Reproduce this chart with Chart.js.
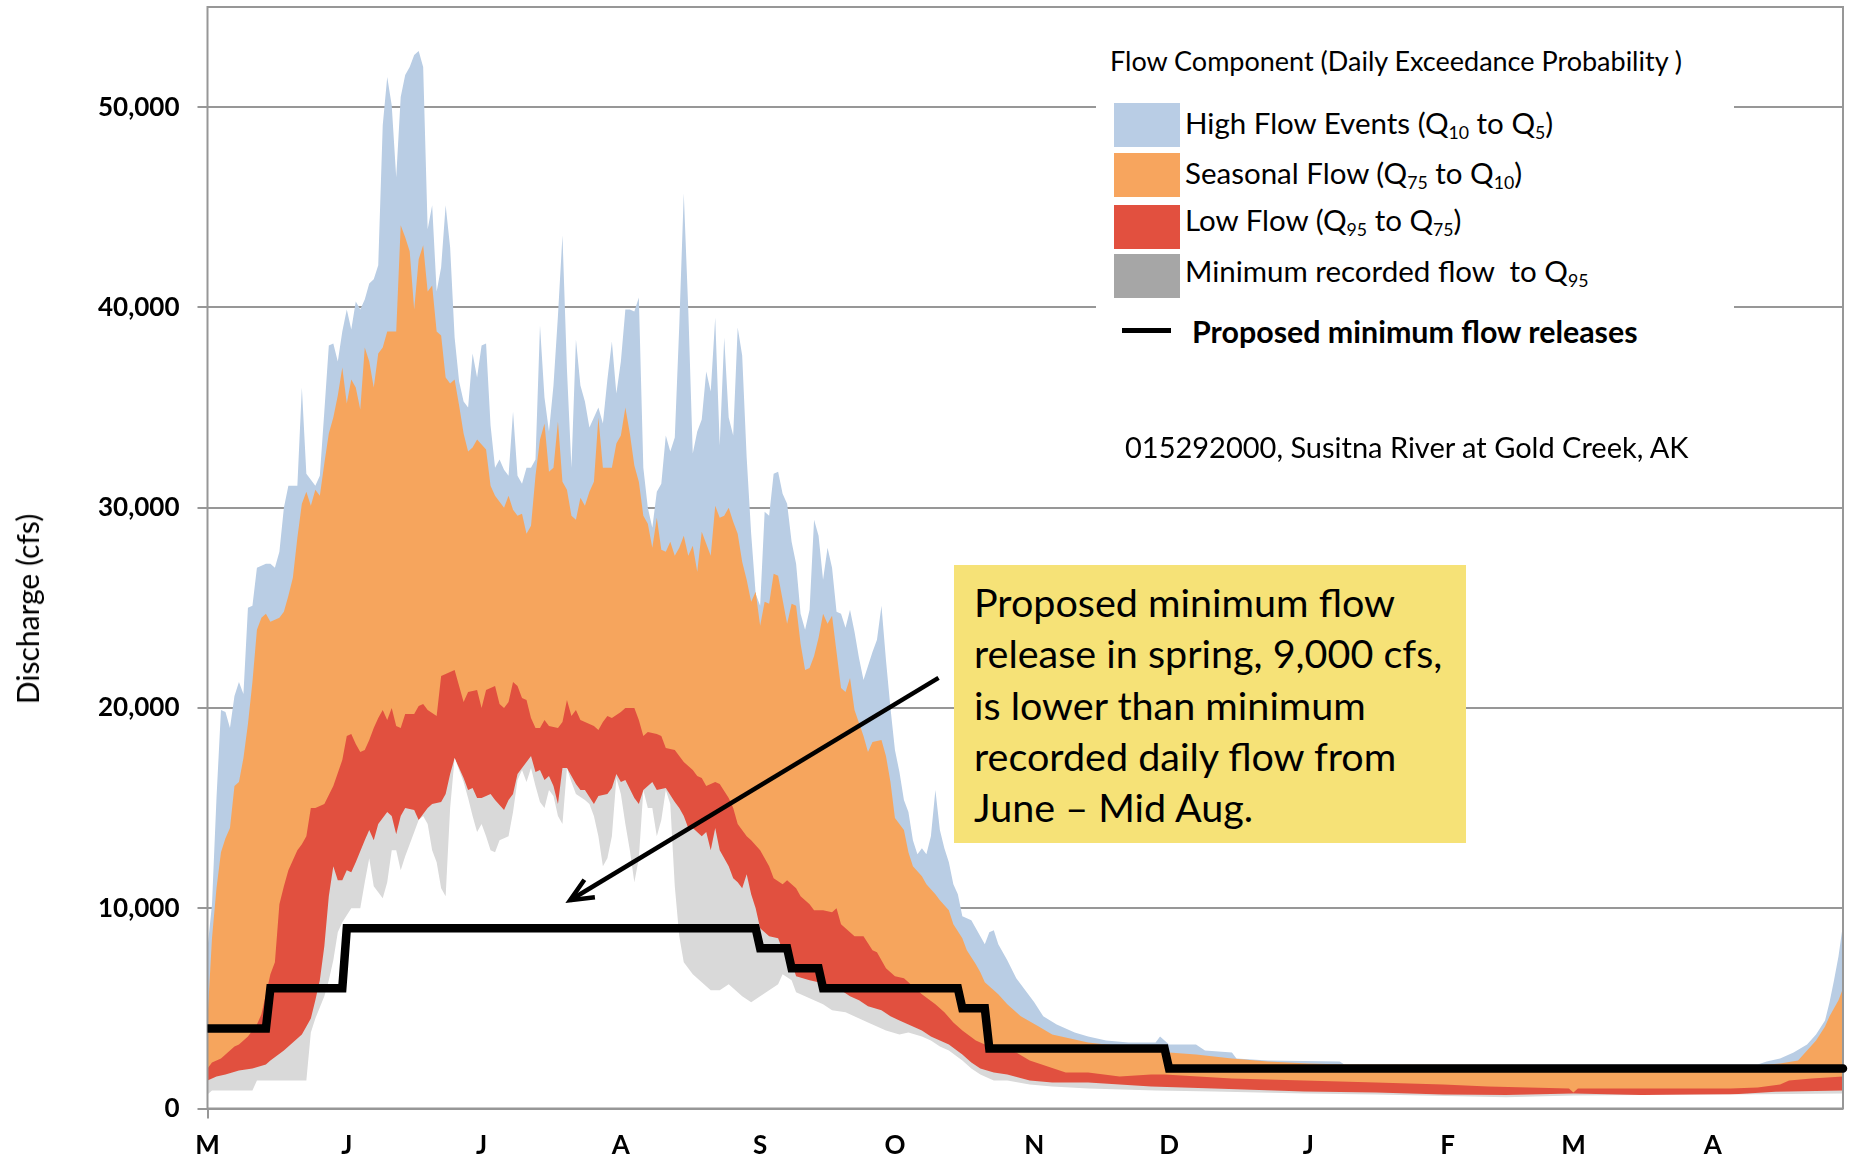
<!DOCTYPE html>
<html>
<head>
<meta charset="utf-8">
<title>Susitna River at Gold Creek – daily flow components</title>
<script src="https://cdn.jsdelivr.net/npm/chart.js"></script>
<style>
  html, body { margin: 0; padding: 0; background: #fff; }
  #wrap { position: relative; width: 1849px; height: 1160px; font-family: Lato, "Noto Sans", sans-serif; color: #000; overflow: hidden; }
  #chart { position: absolute; left: 0; top: 0; }
  .ytitle { position: absolute; left: 27px; top: 609px; transform: translate(-50%, -50%) rotate(-90deg); font-size: 30px; white-space: nowrap; }
  .legend { position: absolute; left: 1096px; top: 28px; width: 638px; height: 330px; background: #fff; }
  .legend .ttl { position: absolute; left: 14px; top: 32px; transform: translateY(-50%); font-size: 27px; white-space: pre; }
  .legend .sw { position: absolute; left: 18px; width: 66px; height: 44px; }
  .legend .lbl { position: absolute; left: 89px; transform: translateY(-50%); font-size: 29.5px; white-space: nowrap; }
  .legend .ln { position: absolute; left: 26px; top: 300px; width: 49px; height: 5px; background: #000; }
  .legend .bold { position: absolute; left: 96px; top: 303px; transform: translateY(-50%); font-size: 30.4px; font-weight: bold; white-space: nowrap; }
  sub { font-size: 0.6em; vertical-align: -0.3em; line-height: 0; }
  .site { position: absolute; left: 1125px; top: 446px; transform: translateY(-50%); font-size: 29px; white-space: nowrap; }
  .note { position: absolute; left: 954px; top: 565px; width: 512px; height: 278px; background: #f6e277; box-sizing: border-box; padding: 11px 0 0 20px; font-size: 39.5px; line-height: 51.3px; white-space: nowrap; }
</style>
</head>
<body>
<div id="wrap">
  <canvas id="chart" width="1849" height="1160"></canvas>
  <div class="ytitle">Discharge (cfs)</div>
  <div class="legend">
    <div class="ttl">Flow Component (Daily Exceedance Probability )</div>
    <div class="sw" style="top:75px;background:#b9cde5"></div>
    <div class="lbl" style="top:94px">High Flow Events (Q<sub>10</sub> to Q<sub>5</sub>)</div>
    <div class="sw" style="top:125px;background:#f7a55e"></div>
    <div class="lbl" style="top:144px">Seasonal Flow (Q<sub>75</sub> to Q<sub>10</sub>)</div>
    <div class="sw" style="top:177px;background:#e2503f"></div>
    <div class="lbl" style="top:191px">Low Flow (Q<sub>95</sub> to Q<sub>75</sub>)</div>
    <div class="sw" style="top:226px;background:#a6a6a6"></div>
    <div class="lbl" style="top:242px">Minimum recorded flow&nbsp; to Q<sub>95</sub></div>
    <div class="ln"></div>
    <div class="bold">Proposed minimum flow releases</div>
  </div>
  <div class="site">015292000, Susitna River at Gold Creek, AK</div>
  <div class="note">Proposed minimum flow<br>release in spring, 9,000 cfs,<br>is lower than minimum<br>recorded daily flow from<br>June – Mid Aug.</div>
</div>
<script>
// Water year runs May 1 (day 0) to Apr 30 (day 364).
const monthLabels = ['M', 'J', 'J', 'A', 'S', 'O', 'N', 'D', 'J', 'F', 'M', 'A'];
const monthStartDays = [0, 31, 61, 92, 123, 153, 184, 214, 245, 276, 304, 335];
const lastDay = 364;
const yTickValues = [0, 10000, 20000, 30000, 40000, 50000];
const yTop = 55000;

// Daily exceedance flows, [day, cfs]
const q5Flow = [[0,8000],[1,10200],[2,15500],[3,19900],[4,19800],[5,19000],[6,20600],[7,21300],[8,20700],[9,25000],[10,25100],[11,27000],[13,27200],[14,27200],[15,27000],[16,27800],[17,30000],[18,31100],[20,31100],[21,36000],[22,31700],[23,31400],[24,31100],[25,31600],[26,34800],[27,38100],[28,38200],[29,37300],[30,38800],[31,39900],[32,38900],[33,40300],[34,39900],[35,40400],[36,41200],[37,41400],[38,42100],[39,49100],[40,51500],[41,50100],[42,46500],[43,50500],[44,51600],[45,52000],[46,52600],[47,52800],[48,52000],[49,43900],[50,45100],[51,40800],[52,42000],[53,45100],[54,43000],[55,38500],[56,36300],[57,35300],[58,35000],[59,37700],[60,36500],[61,38100],[62,38200],[63,34100],[64,32000],[65,32400],[66,31900],[67,31600],[68,34800],[69,31600],[70,31200],[71,32000],[72,32000],[73,32400],[74,39100],[75,35500],[76,33800],[77,36100],[78,39600],[79,43600],[80,36900],[81,32000],[82,38400],[83,36100],[84,35300],[85,34000],[86,34500],[87,35000],[88,34200],[89,36400],[90,38300],[91,35700],[92,37300],[93,39900],[94,39900],[95,39800],[96,40500],[97,32000],[98,30000],[99,29000],[100,30800],[101,31200],[102,33600],[103,32800],[104,33500],[105,39100],[106,45700],[107,39900],[108,32700],[109,33800],[110,34400],[111,36800],[112,35800],[113,39500],[114,33100],[115,38500],[116,34500],[117,33600],[118,39000],[119,37600],[120,32500],[121,28700],[122,25700],[123,25100],[124,29800],[125,29600],[126,31700],[127,31800],[128,30700],[129,30200],[130,28300],[131,27200],[132,24700],[133,23900],[134,24900],[135,29400],[136,28600],[137,26400],[138,28000],[139,27000],[140,24800],[141,24700],[142,24000],[143,24900],[144,23800],[145,22500],[146,21400],[147,22100],[148,22800],[149,23400],[150,25100],[151,22400],[152,20000],[153,17900],[154,16800],[155,15400],[156,14800],[157,13400],[158,12700],[159,13000],[160,12700],[161,13600],[162,15900],[163,13900],[164,13000],[165,12300],[166,11200],[167,10700],[168,9600],[170,9400],[172,8600],[173,8200],[174,8800],[175,8900],[176,8200],[178,7400],[180,6500],[182,5900],[184,5300],[186,4600],[189,4200],[193,3800],[196,3600],[200,3400],[205,3300],[211,3300],[212,3600],[214,3200],[220,3200],[222,2900],[228,2800],[229,2500],[236,2400],[252,2350],[253,2200],[345,2200],[347,2350],[350,2500],[353,2800],[356,3200],[358,3700],[360,4400],[361,5300],[362,6400],[363,7600],[364,9200]];

const q10Flow = [[0,4500],[1,8500],[2,11000],[3,12800],[4,13500],[5,14000],[6,16100],[7,16300],[8,17500],[9,19200],[10,21300],[11,23900],[12,24500],[13,24700],[14,24300],[15,24400],[16,24500],[17,24800],[18,25600],[19,26500],[20,28500],[21,30200],[22,30800],[23,30100],[24,30900],[25,30600],[26,32200],[27,33700],[28,34500],[29,35600],[30,37000],[31,35200],[32,36400],[33,36000],[34,34900],[35,38000],[36,37300],[37,36000],[38,37700],[39,38000],[40,38800],[42,38800],[43,44100],[44,43500],[45,42800],[46,39900],[47,42400],[48,43100],[49,40800],[50,41100],[51,38800],[52,38600],[53,36500],[54,36200],[55,36400],[56,35100],[57,33700],[58,32800],[59,33000],[60,33400],[62,32900],[63,31100],[64,30600],[66,30000],[67,30600],[68,29900],[69,29600],[70,29700],[71,28700],[72,29100],[73,31600],[74,33400],[75,34200],[76,31800],[77,32000],[78,34300],[79,31300],[80,30900],[81,29600],[82,29400],[83,30500],[84,30100],[85,30800],[86,31300],[87,34500],[88,32000],[90,32000],[91,33200],[92,33600],[93,35000],[94,33700],[95,32100],[96,31300],[97,29600],[98,29200],[99,28000],[100,29500],[101,27900],[102,27800],[103,28300],[104,27600],[105,28000],[106,28600],[107,27600],[108,28100],[109,26800],[110,28800],[111,28200],[112,27600],[113,30100],[114,29500],[115,29600],[116,30000],[117,29300],[118,28700],[119,27300],[120,26400],[121,25300],[122,25800],[123,24100],[124,25300],[125,25200],[126,26700],[127,26600],[128,25400],[129,24200],[130,25200],[131,25100],[132,23200],[133,21900],[134,22000],[135,22600],[136,23500],[137,24700],[138,24200],[139,24600],[140,22800],[141,21000],[142,20800],[143,21500],[144,19900],[146,18600],[147,17800],[148,18300],[150,18400],[151,17600],[152,16300],[153,14500],[155,13900],[156,12800],[157,12100],[159,11600],[160,11200],[162,10700],[163,10400],[165,9900],[166,9200],[168,8500],[169,7900],[171,7200],[172,6800],[173,6300],[176,5700],[178,5200],[181,4600],[185,4100],[188,3700],[192,3500],[196,3300],[200,3200],[211,3000],[214,2800],[220,2700],[228,2500],[236,2350],[245,2250],[253,2200],[345,2150],[350,2250],[354,2400],[356,2900],[358,3400],[360,4100],[361,4600],[363,5400],[364,6000]];

const q75Flow = [[0,2000],[1,2300],[3,2500],[4,2700],[6,3100],[7,3200],[9,3600],[11,4200],[12,4700],[14,6700],[15,7300],[16,10200],[17,11100],[18,11900],[20,12900],[21,13200],[22,13600],[23,15000],[24,15000],[26,15200],[28,16100],[30,17400],[31,18600],[32,18700],[33,18200],[34,17800],[35,17900],[36,18400],[37,19000],[38,19500],[39,19900],[40,19400],[41,20000],[42,19100],[43,19000],[44,19700],[46,19700],[47,20100],[48,20200],[49,19900],[51,19600],[52,21600],[53,21700],[55,21900],[56,21100],[57,20300],[58,20800],[60,20900],[61,20000],[62,20900],[64,21100],[65,20200],[66,20000],[67,20300],[68,21300],[69,21100],[70,20500],[71,20400],[72,19500],[73,19000],[74,19000],[75,19400],[76,19100],[78,19000],[79,19300],[80,20400],[81,19600],[82,19900],[83,19400],[85,19200],[86,19100],[87,18900],[88,19300],[89,19600],[90,19500],[92,19800],[93,20000],[95,20000],[96,19400],[97,18600],[98,18800],[100,18700],[101,18600],[102,18000],[104,17900],[105,17600],[106,17300],[108,16900],[109,16600],[110,16500],[111,16100],[113,16300],[114,16200],[116,15500],[117,15000],[118,14200],[120,13600],[121,13400],[123,12900],[125,12100],[126,11500],[128,11200],[129,11400],[131,11000],[132,10600],[134,10200],[135,9900],[137,9900],[139,9800],[140,10000],[141,9200],[142,9000],[144,8600],[146,8600],[148,7900],[149,7800],[151,7000],[153,6600],[155,6500],[157,6100],[159,5700],[162,5200],[164,4800],[166,4300],[168,3900],[171,3400],[173,3200],[176,3000],[180,2800],[183,2400],[187,2100],[191,1800],[196,1800],[203,1600],[210,1700],[213,1700],[228,1500],[244,1400],[260,1300],[275,1200],[285,1100],[303,1000],[304,800],[305,1000],[320,1000],[339,1000],[345,1050],[350,1200],[352,1400],[357,1500],[364,1600]];

const q95Flow = [[0,1400],[2,1600],[4,1700],[7,1900],[10,2000],[13,2200],[14,2400],[17,2900],[21,3700],[23,4500],[24,5400],[25,6400],[26,8100],[27,10600],[28,12100],[29,11400],[30,11400],[31,11900],[32,11800],[33,12300],[35,13400],[36,13900],[37,13400],[38,14200],[40,14800],[41,14600],[42,13700],[43,14600],[44,15000],[46,14900],[47,14400],[49,15000],[50,15200],[52,15300],[53,15700],[54,16700],[55,17500],[57,16500],[58,15900],[59,16000],[60,15500],[61,15500],[63,15700],[64,15400],[66,14900],[67,15400],[68,15700],[69,16700],[70,17000],[72,17600],[73,16800],[74,16900],[75,16400],[76,16600],[77,16100],[78,15200],[79,17000],[80,17000],[82,16200],[83,15900],[84,15900],[86,15200],[87,15600],[89,15700],[90,16000],[91,16700],[92,16300],[93,16400],[95,15500],[96,15200],[97,15900],[99,16300],[100,15900],[102,16000],[104,15300],[105,15000],[106,14600],[107,14000],[108,14000],[110,13600],[111,13800],[112,12900],[113,14000],[114,12900],[116,12100],[117,11500],[118,11300],[119,11000],[120,11700],[121,10700],[122,10000],[123,9000],[125,8600],[127,8500],[128,7900],[130,7300],[131,6600],[134,6400],[136,6300],[138,6100],[141,5900],[143,5600],[145,5400],[147,5100],[150,4900],[152,4600],[154,4400],[156,4200],[159,3900],[161,3600],[163,3400],[165,3200],[168,2700],[170,2300],[172,2000],[175,1800],[178,1700],[183,1400],[188,1300],[196,1300],[203,1200],[210,1100],[224,1000],[244,850],[260,800],[275,700],[289,680],[304,750],[319,680],[339,700],[349,840],[364,900]];

const minRecordedFlow = [[0,700],[1,900],[10,900],[11,1400],[22,1400],[23,3800],[24,4500],[26,5600],[27,6400],[28,7400],[29,8800],[30,9300],[32,10000],[34,10000],[35,11300],[36,12500],[37,11100],[39,10500],[40,11300],[41,12900],[42,12900],[43,11900],[44,12600],[45,13200],[47,14400],[48,14600],[49,14200],[50,12900],[51,12300],[52,11000],[53,10600],[54,15000],[55,17500],[57,16300],[58,15500],[59,14600],[60,13800],[61,14200],[62,13600],[63,12900],[64,12800],[65,13400],[67,13600],[68,14800],[69,16400],[70,16900],[71,16300],[72,17000],[73,16100],[74,15300],[75,15000],[76,15900],[77,15600],[78,14600],[79,14200],[80,17000],[81,16300],[82,15700],[84,15400],[85,15200],[86,14600],[87,13600],[88,12100],[89,12500],[90,13600],[91,16500],[92,15700],[93,14200],[94,12900],[95,11300],[96,12500],[97,15900],[98,15000],[99,15000],[100,13600],[101,14400],[102,15900],[103,15200],[104,11100],[105,8600],[106,7300],[108,6700],[110,6300],[112,5900],[114,5900],[116,6200],[117,6000],[119,5600],[121,5300],[123,5600],[125,5900],[127,6200],[128,6700],[130,6400],[131,5800],[133,5600],[135,5400],[137,5200],[139,4900],[142,4800],[147,4300],[151,3900],[154,3700],[156,3800],[159,3600],[161,3400],[163,3100],[165,2900],[168,2400],[170,2000],[172,1700],[175,1400],[178,1400],[183,1200],[188,1100],[196,1000],[211,900],[224,850],[244,750],[260,700],[289,560],[304,650],[320,680],[339,700],[364,750]];

// Proposed minimum flow release schedule, [day, cfs]
const proposedRelease = [[0,4000],[13,4000],[14,6000],[30,6000],[31,9000],[122,9000],[123,8000],[129,8000],[130,7000],[136,7000],[137,6000],[167,6000],[168,5000],[173,5000],[174,3000],[213,3000],[214,2000],[364,2000]];

// Callout arrow, in chart units (day, cfs)
const arrowFrom = { day: 162.7, cfs: 21500 };
const arrowTo = { day: 80.7, cfs: 10400 };

const GRID = '#979797';
const toPoints = s => s.map(([d, v]) => ({ x: d, y: v }));
const fmt = v => String(v).replace(/\B(?=(\d{3})+(?!\d))/g, ',');

function area(label, series, color) {
  return { label, data: toPoints(series), backgroundColor: color, borderWidth: 0, pointRadius: 0, fill: 'origin', tension: 0 };
}

// Plot frame drawn over the filled bands, beneath the release line.
const plotFrame = {
  id: 'plotFrame',
  afterDatasetDraw(chart, args) {
    if (args.index !== 1) return;
    const { left, top, right, bottom } = chart.chartArea;
    const c = chart.ctx;
    c.save();
    c.strokeStyle = GRID;
    c.lineWidth = 2;
    c.strokeRect(left, top, right - left, bottom - top);
    c.restore();
  }
};

const calloutArrow = {
  id: 'calloutArrow',
  afterDatasetsDraw(chart) {
    const xs = chart.scales.x, ys = chart.scales.y;
    const x1 = xs.getPixelForValue(arrowFrom.day), y1 = ys.getPixelForValue(arrowFrom.cfs);
    const x2 = xs.getPixelForValue(arrowTo.day), y2 = ys.getPixelForValue(arrowTo.cfs);
    const c = chart.ctx;
    c.save();
    c.strokeStyle = '#000';
    c.lineWidth = 4.5;
    c.beginPath(); c.moveTo(x1, y1); c.lineTo(x2, y2); c.stroke();
    const ang = Math.atan2(y2 - y1, x2 - x1), len = 25, spread = 0.42;
    c.lineJoin = 'miter';
    c.beginPath();
    c.moveTo(x2 - len * Math.cos(ang - spread), y2 - len * Math.sin(ang - spread));
    c.lineTo(x2, y2);
    c.lineTo(x2 - len * Math.cos(ang + spread), y2 - len * Math.sin(ang + spread));
    c.stroke();
    c.restore();
  }
};

const tickDays = monthStartDays.concat([lastDay]);
const edgeTick = ctx => (ctx.index === 0 || ctx.index === tickDays.length - 1) ? GRID : 'rgba(0,0,0,0)';

new Chart(document.getElementById('chart'), {
  type: 'line',
  data: {
    datasets: [
      { label: 'Proposed minimum flow releases', data: toPoints(proposedRelease), borderColor: '#000', borderWidth: 8.5,
        pointRadius: 0, fill: false, tension: 0, borderCapStyle: 'round', borderJoinStyle: 'miter',
        clip: { left: 0, top: 5, right: 6, bottom: 5 } },
      area('Minimum recorded flow', minRecordedFlow, '#ffffff'),
      area('Minimum recorded flow to Q95', q95Flow, '#d9d9d9'),
      area('Low Flow (Q95 to Q75)', q75Flow, '#e1503f'),
      area('Seasonal Flow (Q75 to Q10)', q10Flow, '#f6a55d'),
      area('High Flow Events (Q10 to Q5)', q5Flow, '#b9cde4')
    ]
  },
  options: {
    responsive: false,
    animation: false,
    events: [],
    layout: { padding: { left: 0, right: 6, top: 7, bottom: 0 } },
    plugins: { legend: { display: false }, tooltip: { enabled: false } },
    scales: {
      x: {
        type: 'linear', min: 0, max: lastDay,
        afterBuildTicks: s => { s.ticks = tickDays.map(v => ({ value: v })); },
        afterFit: s => { s.height = 51.5; s.paddingLeft = 0; s.paddingRight = 0; },
        ticks: { autoSkip: false, maxRotation: 0, padding: 12, color: '#000',
                 font: { family: 'Lato', weight: 'bold', size: 26 },
                 callback: (v, i) => (i < monthLabels.length ? monthLabels[i] : null) },
        grid: { drawOnChartArea: false, tickLength: 10, lineWidth: 2, color: edgeTick, tickColor: edgeTick },
        border: { display: false }
      },
      y: {
        min: 0, max: yTop,
        afterBuildTicks: s => { s.ticks = yTickValues.concat([yTop]).map(v => ({ value: v })); },
        afterFit: s => { s.width = 207.5; s.paddingTop = 0; s.paddingBottom = 0; },
        ticks: { padding: 18, color: '#000', font: { family: 'Lato', weight: 'bold', size: 26 },
                 callback: v => (v === yTop ? null : fmt(v)) },
        grid: { color: GRID, lineWidth: 2, tickLength: 10,
                tickColor: ctx => (ctx.tick && ctx.tick.value === yTop ? 'rgba(0,0,0,0)' : GRID) },
        border: { display: false }
      }
    }
  },
  plugins: [plotFrame, calloutArrow]
});
</script>
</body>
</html>
